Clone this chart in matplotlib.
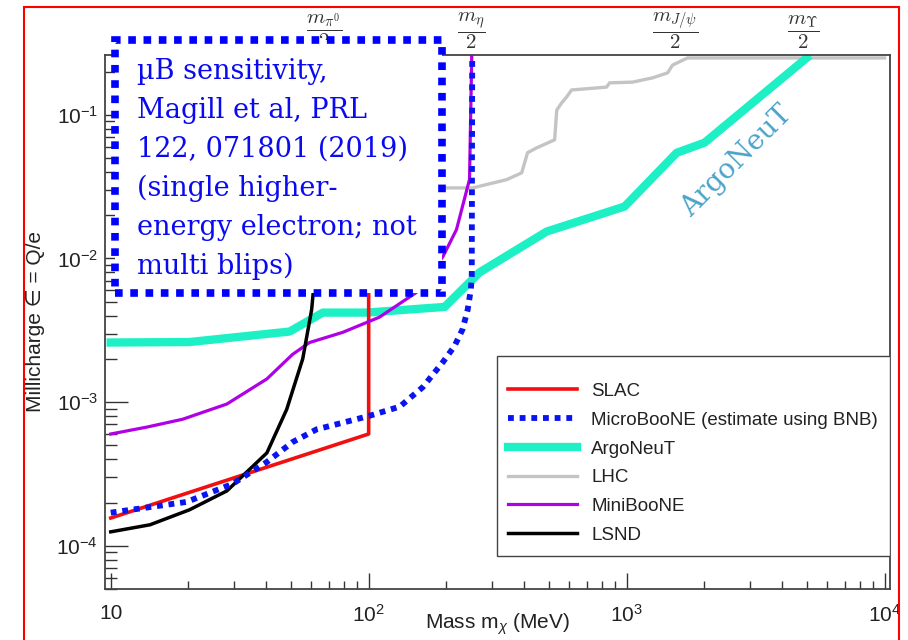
import matplotlib
matplotlib.use("Agg")
import matplotlib.pyplot as plt
import matplotlib.patches as patches
import matplotlib.transforms as mtransforms
from matplotlib.ticker import FixedLocator, FixedFormatter, LogLocator, NullFormatter

plt.rcParams['font.family'] = ['Liberation Sans', 'DejaVu Sans']
plt.rcParams['mathtext.fontset'] = 'custom'
plt.rcParams['mathtext.rm'] = 'Liberation Sans'
plt.rcParams['mathtext.it'] = 'Liberation Sans:italic'

# data (mass in MeV, millicharge epsilon)
slac_mass = [10, 100, 100]
slac_eps = [1.56e-4, 6.0e-4, 0.26]

uboone_mass = [10, 19.7, 29.7, 40.3, 50.7, 62.8, 100, 132, 162, 194, 215, 231, 242, 249, 251, 252]
uboone_eps = [1.7e-4, 2.02e-4, 2.7e-4, 3.83e-4, 5.27e-4, 6.46e-4, 8.0e-4, 9.3e-4, 1.27e-3,
              1.9e-3, 2.45e-3, 3.2e-3, 4.4e-3, 6.1e-3, 7.5e-3, 0.26]

argoneut_mass = [10, 20.2, 49.4, 66.4, 98, 197, 269, 490, 982, 1563, 2005, 4990]
argoneut_eps = [2.6e-3, 2.62e-3, 3.1e-3, 4.2e-3, 4.2e-3, 4.6e-3, 8.0e-3, 0.0154, 0.023,
                0.0544, 0.064, 0.249]

lhc_mass = [150, 253, 343, 392, 413, 448, 526, 536, 560, 585, 612, 836, 859, 1055, 1262,
            1442, 1507, 1722, 10000]
lhc_eps = [0.031, 0.031, 0.0354, 0.0395, 0.0545, 0.0589, 0.067, 0.108, 0.121, 0.133, 0.149,
           0.156, 0.167, 0.169, 0.181, 0.196, 0.222, 0.249, 0.249]

miniboone_mass = [10, 13.8, 19, 28.2, 40.3, 50.7, 59, 79.3, 110, 153, 194, 219, 246, 251]
miniboone_eps = [6.0e-4, 6.7e-4, 7.6e-4, 9.7e-4, 1.45e-3, 2.15e-3, 2.6e-3, 3.06e-3, 3.9e-3,
                 5.8e-3, 0.0103, 0.0159, 0.0355, 0.26]

lsnd_mass = [10, 14.2, 20.2, 28.2, 40.3, 48.1, 55.5, 60.1, 62, 66]
lsnd_eps = [1.25e-4, 1.4e-4, 1.78e-4, 2.41e-4, 4.43e-4, 8.9e-4, 2.0e-3, 4.4e-3, 8e-3, 0.03]

x_ticks = [10, 100, 1000, 10000]
x_ticklabels = ['10', '$10^{2}$', '$10^{3}$', '$10^{4}$']
y_ticks = [1e-4, 1e-3, 1e-2, 1e-1]
y_ticklabels = ['$10^{-4}$', '$10^{-3}$', '$10^{-2}$', '$10^{-1}$']

top_pos = [67.5, 251, 1550, 4850]
top_labels = [r'$\dfrac{m_{\pi^0}}{2}$', r'$\dfrac{m_{\eta}}{2}$',
              r'$\dfrac{m_{J/\psi}}{2}$', r'$\dfrac{m_{\Upsilon}}{2}$']

box_text = ('\u00b5B sensitivity,\nMagill et al, PRL\n122, 071801 (2019)\n'
            '(single higher-\nenergy electron; not\nmulti blips)')

fig = plt.figure(figsize=(9.08, 6.4), dpi=100)
ax = fig.add_axes([105 / 908, 1 - 589 / 640, 785 / 908, 534 / 640])
ax.set_xscale('log')
ax.set_yscale('log')
ax.set_xlim(9.5, 10500)
ax.set_ylim(5.0e-5, 0.261)

l_lhc, = ax.plot(lhc_mass, lhc_eps, color='#c4c4c4', lw=2.4, label='LHC')
l_argo, = ax.plot(argoneut_mass, argoneut_eps, color='#1ef0c6', lw=6, label='ArgoNeuT')
l_slac, = ax.plot(slac_mass, slac_eps, color='#f01010', lw=2.6, label='SLAC')
l_mini, = ax.plot(miniboone_mass, miniboone_eps, color='#b000e6', lw=2.3, label='MiniBooNE')
l_lsnd, = ax.plot(lsnd_mass, lsnd_eps, color='black', lw=2.5, label='LSND')
l_ub, = ax.plot(uboone_mass, uboone_eps, color='#0a14f0', lw=4.2, linestyle=(0, (1, 1)),
                label='MicroBooNE (estimate using BNB)')

ax.xaxis.set_major_locator(FixedLocator(x_ticks))
ax.xaxis.set_major_formatter(FixedFormatter(x_ticklabels))
ax.yaxis.set_major_locator(FixedLocator(y_ticks))
ax.yaxis.set_major_formatter(FixedFormatter(y_ticklabels))
ax.xaxis.set_minor_locator(LogLocator(base=10, subs=range(2, 10), numticks=20))
ax.yaxis.set_minor_locator(LogLocator(base=10, subs=range(2, 10), numticks=20))
ax.xaxis.set_minor_formatter(NullFormatter())
ax.yaxis.set_minor_formatter(NullFormatter())

ax.tick_params(axis='both', which='both', direction='in', color='#333333', width=1.0,
               labelsize=15, labelcolor='#222222')
ax.tick_params(axis='x', which='major', length=11.5, pad=11)
ax.tick_params(axis='x', which='minor', length=5.8)
ax.tick_params(axis='y', which='major', length=16.5, pad=5)
ax.tick_params(axis='y', which='minor', length=8.5)
for s in ax.spines.values():
    s.set_color('#444444')
    s.set_linewidth(1.3)

ax.set_xlabel('Mass m$_{\\chi}$ (MeV)', fontsize=15, color='#222222')
ax.xaxis.set_label_coords(0.5, -0.043)
ax.set_ylabel('Millicharge \u2208 = Q/e', fontsize=15, color='#222222')
ax.yaxis.set_label_coords(-0.076, 0.5)

trans = mtransforms.blended_transform_factory(ax.transData, ax.transAxes)
for xp, lab in zip(top_pos, top_labels):
    ax.text(xp, 1.008, lab, transform=trans, ha='center', va='bottom', fontsize=15,
            color='#333333', math_fontfamily='cm', clip_on=False)

ax.text(2667, 0.0472, 'ArgoNeuT', rotation=45, rotation_mode='anchor', ha='center',
        va='center', fontsize=20, color='#4aa3c9', family='DejaVu Serif')

# legend frame drawn separately so its size matches the reference
ax.add_patch(patches.Rectangle((0.4994, 0.0618), 0.5006, 0.374, transform=ax.transAxes,
                               facecolor='white', edgecolor='#444444', lw=1.0, zorder=5))
leg = ax.legend(handles=[l_slac, l_ub, l_argo, l_lhc, l_mini, l_lsnd], loc='upper left',
                bbox_to_anchor=(0.5134, 0.386), fontsize=13.5, handlelength=3.68,
                handletextpad=0.75, labelspacing=0.62, borderpad=0, borderaxespad=0,
                frameon=False)
leg.set_zorder(6)
for t in leg.get_texts():
    t.set_color('#222222')

box = patches.Rectangle((115 / 908, 1 - 293 / 640), 327 / 908, 253 / 640,
                        transform=fig.transFigure, facecolor='white', edgecolor='#0000ff',
                        lw=5.5, linestyle=(0, (1, 1)), zorder=10)
fig.add_artist(box)
fig.text(137 / 908, 1 - 58 / 640, box_text, ha='left', va='top', fontsize=19.5,
         color='#0a0af0', family='DejaVu Serif', linespacing=1.56, zorder=11)

border = patches.Rectangle((24 / 908, -0.05), 875 / 908, 1.05 - 7 / 640,
                           transform=fig.transFigure, fill=False, edgecolor='red', lw=1.5,
                           zorder=12)
fig.add_artist(border)

fig.savefig('out.png', dpi=100)
